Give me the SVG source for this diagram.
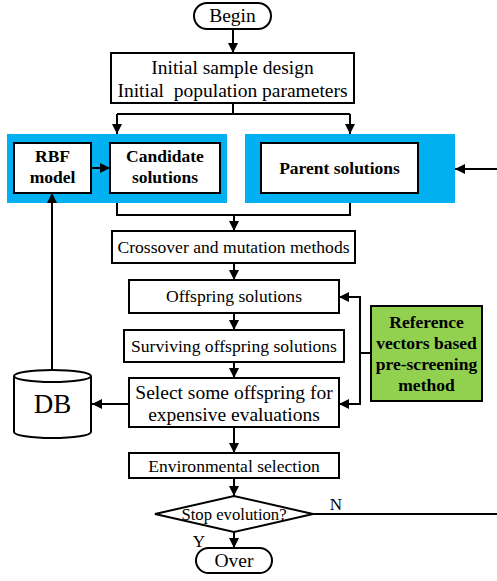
<svg xmlns="http://www.w3.org/2000/svg" width="497" height="581" viewBox="0 0 497 581">
<defs>
<marker id="ah" viewBox="0 0 10 10" refX="10" refY="5" markerWidth="10" markerHeight="10" markerUnits="userSpaceOnUse" orient="auto">
<path d="M0,0 L10,5 L0,10 z" fill="#000"/>
</marker>
<style>
.box{fill:#fff;stroke:#000;stroke-width:2}
.ln{fill:none;stroke:#000;stroke-width:2}
.ar{fill:none;stroke:#000;stroke-width:2;marker-end:url(#ah)}
.t{font-family:"Liberation Serif","Times New Roman",serif;font-size:19.5px;text-anchor:middle;fill:#000}
.s{font-size:17.6px}
.b{font-family:"Liberation Serif","Times New Roman",serif;font-size:17.5px;font-weight:bold;text-anchor:middle;fill:#000}
.panel{fill:#00B0F0}
</style>
</defs>
<rect width="497" height="581" fill="#fff"/>
<g id="panels">
<rect class="panel" x="7" y="134" width="220" height="69"/>
<rect class="panel" x="245" y="134" width="210" height="69"/>
</g>
<g id="connectors">
<path class="ar" d="M233,29 V53"/>
<path class="ln" d="M233,103 V114 M117,114 H350"/>
<path class="ar" d="M117,114 V134"/>
<path class="ar" d="M350,114 V134"/>
<path class="ar" d="M91,168 H110"/>
<path class="ar" d="M497,169 H455"/>
<path class="ln" d="M117,203 V215 H350 V203"/>
<path class="ar" d="M234,215 V231"/>
<path class="ar" d="M234,263 V280"/>
<path class="ar" d="M234,313 V330"/>
<path class="ar" d="M234,362 V378"/>
<path class="ar" d="M234,427 V453"/>
<path class="ar" d="M234,478 V496"/>
<path class="ar" d="M234,532 V548"/>
<path class="ln" d="M371,353 H360 M360,297 V404"/>
<path class="ar" d="M361,297 H339"/>
<path class="ar" d="M361,404 H339"/>
<path class="ar" d="M129,404 H92"/>
<path class="ar" d="M52,370 V193"/>
<path class="ln" d="M313,514 H497"/>
<text class="t" x="336" y="510" style="font-size:17px">N</text>
<text class="t" x="199" y="547" style="font-size:17px">Y</text>
</g>
<g id="begin">
<rect class="box" x="194" y="3" width="77" height="26" rx="13"/>
<text class="t" x="232.5" y="22">Begin</text>
</g>
<g id="init">
<rect class="box" x="111" y="53" width="243" height="50"/>
<text class="t" x="232.5" y="74">Initial sample design</text>
<text class="t" x="232.5" y="97" style="white-space:pre">Initial  population parameters</text>
</g>
<g id="rbf">
<rect class="box" x="14" y="143" width="77" height="50"/>
<text class="b" x="52.5" y="162">RBF</text>
<text class="b" x="52.5" y="183">model</text>
</g>
<g id="candidate">
<rect class="box" x="110" y="143" width="110" height="50"/>
<text class="b" x="165" y="162">Candidate</text>
<text class="b" x="165" y="183">solutions</text>
</g>
<g id="parent">
<rect class="box" x="261" y="143" width="157" height="50"/>
<text class="b" x="339.5" y="174">Parent solutions</text>
</g>
<g id="crossover">
<rect class="box" x="112" y="231" width="243" height="32"/>
<text class="t s" x="233.5" y="253">Crossover and mutation methods</text>
</g>
<g id="offspring">
<rect class="box" x="129" y="280" width="210" height="33"/>
<text class="t s" x="234" y="302">Offspring solutions</text>
</g>
<g id="surviving">
<rect class="box" x="124" y="330" width="220" height="32"/>
<text class="t s" x="234" y="352">Surviving offspring solutions</text>
</g>
<g id="select">
<rect class="box" x="129" y="378" width="210" height="49"/>
<text class="t" x="234" y="399">Select some offspring for</text>
<text class="t" x="234" y="421">expensive evaluations</text>
</g>
<g id="reference">
<rect x="371" y="306" width="111" height="95" fill="#92D050" stroke="#000" stroke-width="2"/>
<text class="b" x="426.5" y="328">Reference</text>
<text class="b" x="426.5" y="349">vectors based</text>
<text class="b" x="426.5" y="370">pre-screening</text>
<text class="b" x="426.5" y="391">method</text>
</g>
<g id="db">
<path class="box" d="M14,376 V432 A38.5,6 0 0 0 91,432 V376"/>
<ellipse class="box" cx="52.5" cy="376" rx="38.5" ry="6"/>
<text class="t" x="52.5" y="413" style="font-size:27px">DB</text>
</g>
<g id="env">
<rect class="box" x="129" y="453" width="210" height="25"/>
<text class="t s" x="234" y="472">Environmental selection</text>
</g>
<g id="stop">
<polygon class="box" points="155,514 234,496 313,514 234,532"/>
<text class="t" x="234" y="520" style="font-size:16.7px">Stop evolution?</text>
</g>
<g id="over">
<rect class="box" x="196" y="548" width="76" height="25" rx="12.5"/>
<text class="t" x="234" y="567">Over</text>
</g>
</svg>
